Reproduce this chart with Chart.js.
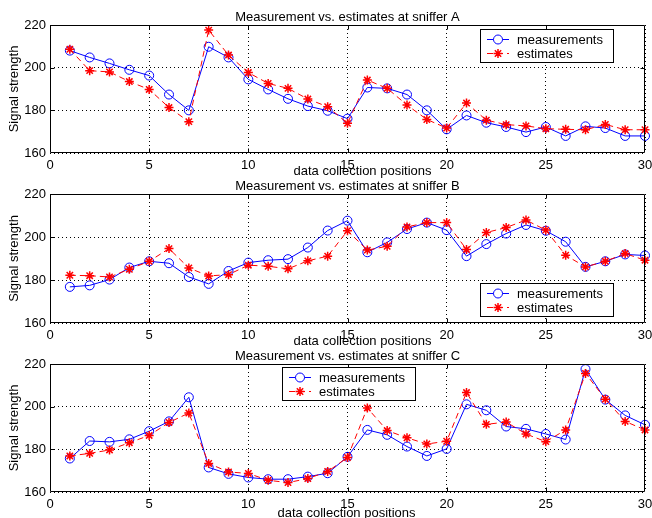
<html lang="en">
<head>
    <meta charset="UTF-8">
    <title>Sniffer estimates</title>
    <script src="https://cdn.jsdelivr.net/npm/chart.js@4.4.1/dist/chart.umd.min.js"></script>
    <style>
        body { margin: 0; background: #fff; }
        #wrap { position: relative; width: 652px; height: 518px; }
        canvas { position: absolute; left: 0; }
    </style>
</head>
<body>
    <div id="wrap">
        <canvas id="plotA" width="652" height="178" style="top: 0px"></canvas>
        <canvas id="plotB" width="652" height="178" style="top: 170px"></canvas>
        <canvas id="plotC" width="652" height="178" style="top: 340px"></canvas>
    </div>
    <script>
        // data
        const positions = [1, 2, 3, 4, 5, 6, 7, 8, 9, 10, 11, 12, 13, 14, 15, 16, 17, 18, 19, 20, 21, 22, 23, 24, 25, 26, 27, 28, 29, 30];

        const measA = [208, 204.8, 202, 199, 196.3, 187.4, 180, 209.8, 204.8, 194.5, 189.8, 185.4, 182, 179.8, 176.1,
            190.7, 190.3, 187.4, 180, 171.1, 177.6, 174.2, 172.2, 169.8, 172.2, 168, 172.5, 171.7, 168, 168];
        const estA = [208.6, 198.6, 198, 193.5, 189.8, 181.3, 174.7, 217.6, 205.9, 197.7, 192.6, 190.3, 185.3, 181.7, 173.9,
            194.2, 190.3, 182.5, 175.7, 171.7, 183.4, 175.4, 173.3, 172.7, 171.4, 171.1, 170.9, 173.4, 170.9, 170.9];

        const measB = [176.8, 177.5, 180.2, 185.8, 188.7, 187.8, 181.4, 178.2, 184.2, 188.1, 189.2, 189.7, 195.1, 203, 207.6,
            192.9, 197.5, 203.7, 206.7, 203.2, 191.1, 196.7, 201.6, 205.6, 202.9, 197.8, 186.1, 188.7, 191.9, 191.4];
        const estB = [182.2, 182, 181.4, 185, 188.7, 194.6, 185.6, 181.9, 182.5, 186.9, 186.4, 185.2, 188.9, 191.1, 202.9,
            193.9, 195.7, 204.7, 206.7, 206.7, 194.2, 202.1, 204.4, 207.9, 203.2, 191.5, 186.1, 188.7, 192.3, 189.2];

        const measC = [175.7, 183.9, 183.5, 184.7, 188.5, 193.1, 204.4, 171.5, 168.5, 166.8, 166, 166, 167.2, 168.8, 176.5,
            189.1, 186.8, 181.3, 176.9, 180.2, 201.1, 198.3, 190.7, 189.6, 187.2, 184.6, 217.6, 203.3, 195.9, 191.5];
        const estC = [176.9, 178.1, 179.7, 183.1, 186.5, 192.6, 197, 173.4, 169.4, 168.7, 165.5, 164.4, 166.3, 169.6, 176.2,
            199.4, 188.8, 185.4, 182.5, 183.8, 206.6, 191.7, 192.8, 187.2, 183.6, 189.1, 215.6, 203.5, 193.1, 189.1];

        const xTicks = [0, 5, 10, 15, 20, 25, 30];
        const yTicks = [160, 180, 200, 220];
        const seriesNames = ["measurements", "estimates"];
        const titles = ["Measurement vs. estimates at sniffer A", "Measurement vs. estimates at sniffer B", "Measurement vs. estimates at sniffer C"];
        const xTitle = "data collection positions";
        const yTitle = "Signal strength";

        const FONT = '13px "Liberation Sans", Arial, sans-serif';
        const BLUE = "#0000ff";
        const RED = "#ff0000";

        function pts(vals) {
            return positions.map((p, i) => ({ x: p, y: vals[i] }));
        }

        // frame, inner ticks, titles and legend drawn the matlab way
        const matlabAxes = {
            id: "matlabAxes",
            afterDraw(chart, args, o) {
                const ctx = chart.ctx;
                const a = chart.chartArea;
                const sx = chart.scales.x, sy = chart.scales.y;
                const L = Math.round(a.left) + 0.5, R = Math.round(a.right) - 0.5;
                const T = Math.round(a.top) + 0.5, B = Math.round(a.bottom) - 0.5;
                ctx.save();
                ctx.strokeStyle = "#000";
                ctx.lineWidth = 1;
                ctx.setLineDash([]);
                ctx.beginPath();
                ctx.rect(L, T, R - L, B - T);
                for (const v of xTicks.slice(1, -1)) {
                    const px = Math.round(sx.getPixelForValue(v)) + 0.5;
                    ctx.moveTo(px, B); ctx.lineTo(px, B - 4);
                    ctx.moveTo(px, T); ctx.lineTo(px, T + 4);
                }
                for (const v of yTicks.slice(1, -1)) {
                    const py = Math.round(sy.getPixelForValue(v)) + 0.5;
                    ctx.moveTo(L, py); ctx.lineTo(L + 4, py);
                    ctx.moveTo(R, py); ctx.lineTo(R - 4, py);
                }
                ctx.stroke();

                ctx.fillStyle = "#000";
                ctx.font = FONT;
                ctx.textAlign = "center";
                ctx.textBaseline = "alphabetic";
                const cx = (a.left + a.right) / 2;
                ctx.fillText(o.title, cx, a.top - 4);
                ctx.fillText(xTitle, cx + o.xShift, a.bottom + o.xBase);
                ctx.save();
                ctx.translate(14, (a.top + a.bottom) / 2);
                ctx.rotate(-Math.PI / 2);
                ctx.textBaseline = "middle";
                ctx.fillText(yTitle, 0, 0);
                ctx.restore();

                // legend
                const lx = o.legend.x, ly = o.legend.y;
                ctx.fillStyle = "#fff";
                ctx.fillRect(lx, ly, 133, 33);
                ctx.strokeStyle = "#000";
                ctx.strokeRect(lx + 0.5, ly + 0.5, 133, 33);
                const rows = [
                    { name: seriesNames[0], color: BLUE, dash: [], mark: "circle" },
                    { name: seriesNames[1], color: RED, dash: [6, 4], mark: "star" }
                ];
                rows.forEach((r, i) => {
                    const yy = ly + 10.5 + i * 14;
                    ctx.strokeStyle = r.color;
                    ctx.lineWidth = 1;
                    ctx.setLineDash(r.dash);
                    ctx.beginPath();
                    ctx.moveTo(lx + 7, yy); ctx.lineTo(lx + 29, yy);
                    ctx.stroke();
                    ctx.setLineDash([]);
                    ctx.lineWidth = r.mark === "star" ? 1.5 : 1;
                    Chart.helpers.drawPoint(ctx, { pointStyle: r.mark, radius: 4.5, rotation: 0, borderWidth: ctx.lineWidth }, lx + 18, yy);
                    ctx.fillStyle = "#000";
                    ctx.textAlign = "left";
                    ctx.textBaseline = "middle";
                    ctx.fillText(r.name, lx + 37, yy + 1);
                });
                ctx.restore();
            }
        };

        function makePlot(id, meas, est, title, padTop, xAxisH, xShift, xBase, legend) {
            return new Chart(id, {
                type: "line",
                data: {
                    datasets: [{
                        label: seriesNames[0],
                        data: pts(meas),
                        order: 1,
                        borderColor: BLUE,
                        borderWidth: 1,
                        pointStyle: "circle",
                        pointRadius: 4.5,
                        pointBorderColor: BLUE,
                        pointBackgroundColor: "rgba(0,0,0,0)",
                        pointBorderWidth: 1,
                        tension: 0,
                        fill: false,
                        clip: false
                    }, {
                        label: seriesNames[1],
                        data: pts(est),
                        order: 0,
                        borderColor: RED,
                        borderWidth: 1,
                        borderDash: [6, 4],
                        pointStyle: "star",
                        pointRadius: 4.5,
                        pointBorderColor: RED,
                        pointBackgroundColor: RED,
                        pointBorderWidth: 1.5,
                        tension: 0,
                        fill: false,
                        clip: false
                    }]
                },
                options: {
                    responsive: false,
                    animation: false,
                    events: [],
                    layout: { padding: { left: 0, right: 7, top: padTop, bottom: 0 } },
                    plugins: {
                        legend: { display: false },
                        tooltip: { enabled: false },
                        matlabAxes: { title: title, xShift: xShift, xBase: xBase, legend: legend }
                    },
                    scales: {
                        x: {
                            type: "linear",
                            min: xTicks[0],
                            max: xTicks[xTicks.length - 1],
                            afterBuildTicks: s => { s.ticks = xTicks.map(v => ({ value: v })); },
                            afterFit: s => { s.height = xAxisH; s.paddingLeft = 0; s.paddingRight = 0; },
                            grid: { color: "#000", lineWidth: 1, drawTicks: false },
                            border: { display: false, dash: [1, 3] },
                            ticks: { color: "#000", font: { family: '"Liberation Sans", Arial, sans-serif', size: 13 }, padding: 5, maxRotation: 0 }
                        },
                        y: {
                            min: yTicks[0],
                            max: yTicks[yTicks.length - 1],
                            afterBuildTicks: s => { s.ticks = yTicks.map(v => ({ value: v })); },
                            afterFit: s => { s.width = 50; },
                            grid: { color: "#000", lineWidth: 1, drawTicks: false },
                            border: { display: false, dash: [1, 3] },
                            ticks: { color: "#000", font: { family: '"Liberation Sans", Arial, sans-serif', size: 13 }, padding: 4 }
                        }
                    }
                },
                plugins: [matlabAxes]
            });
        }

        makePlot("plotA", measA, estA, titles[0], 25, 25, 15, 22, { x: 480, y: 29 });
        makePlot("plotB", measB, estB, titles[1], 24, 25, 15, 22, { x: 480, y: 113 });
        makePlot("plotC", measC, estC, titles[2], 24, 26, -1, 25, { x: 282, y: 27 });
    </script>
</body>
</html>
